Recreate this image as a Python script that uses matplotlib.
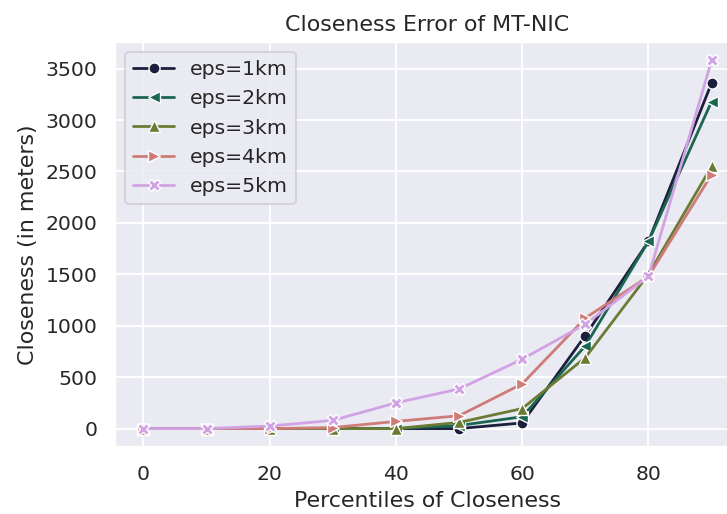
import numpy as np
import matplotlib
matplotlib.use("Agg")
import matplotlib.pyplot as plt
import seaborn as sns

percentiles = [0, 10, 20, 30, 40, 50, 60, 70, 80, 90]
eps_labels = ["eps=1km", "eps=2km", "eps=3km", "eps=4km", "eps=5km"]
eps_1km = [0, 0, 0, 0, 0, 0, 55, 905, 1820, 3360]
eps_2km = [0, 0, 0, 0, 0, 30, 115, 805, 1820, 3180]
eps_3km = [0, 0, 0, 0, 0, 60, 195, 690, 1500, 2550]
eps_4km = [0, 0, 0, 10, 70, 125, 435, 1075, 1480, 2470]
eps_5km = [0, 0, 25, 80, 250, 385, 675, 1015, 1480, 3580]
markers = ["o", "<", "^", ">", "X"]
colors = ["#1b1f3d", "#1a6650", "#6b7b33", "#cf7c78", "#d1a3e4"]

sns.set_theme(style="darkgrid", context="notebook")

dpi = 133
fig = plt.figure(figsize=(727 / dpi, 514 / dpi), dpi=dpi)
ax = fig.add_axes([115 / 727, 67 / 514, 625 / 727, 405 / 514])

series = [eps_1km, eps_2km, eps_3km, eps_4km, eps_5km]
for vals, lab, m, c in zip(series, eps_labels, markers, colors):
    ax.plot(percentiles, vals, marker=m, color=c, label=lab,
            mec="white", mew=0.75)

ax.set_title("Closeness Error of MT-NIC")
ax.set_xlabel("Percentiles of Closeness")
ax.set_ylabel("Closeness (in meters)")
ax.set_xticks([0, 20, 40, 60, 80])
ax.set_yticks(np.arange(0, 3501, 500))
ax.legend(loc="upper left")

fig.savefig("out.png", dpi=dpi)
